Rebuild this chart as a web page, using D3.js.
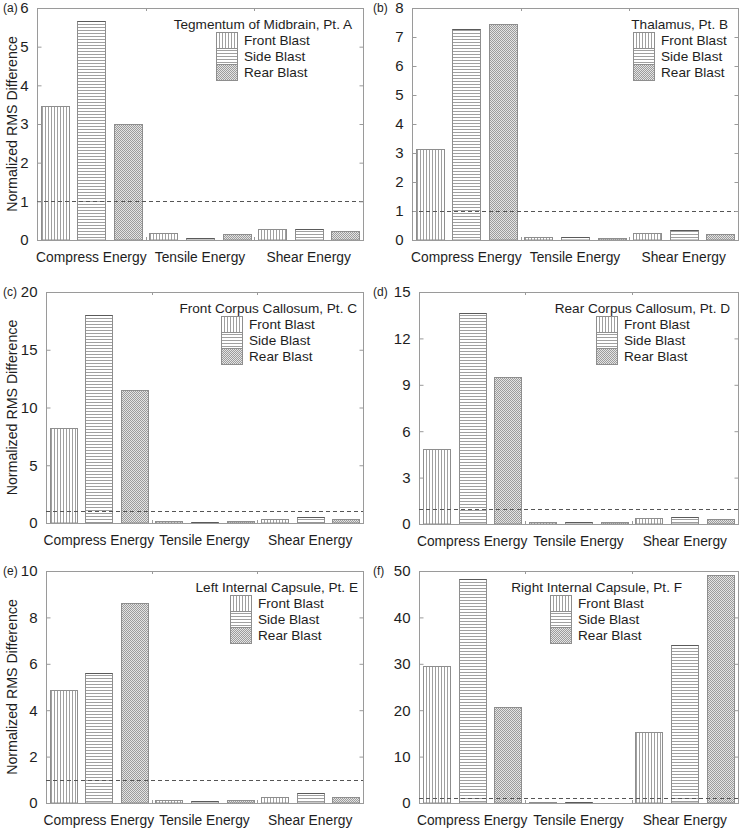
<!DOCTYPE html>
<html><head><meta charset="utf-8">
<script src="https://cdn.jsdelivr.net/npm/d3@7"></script>
<style>
html,body{margin:0;padding:0;background:#fff;}
svg{display:block;font-family:Arial,"Liberation Sans",Helvetica,sans-serif;}
</style></head>
<body>
<svg id="chart" width="742" height="829"></svg>
<script>
// ---------- data ----------
const categories = ["Compress Energy", "Tensile Energy", "Shear Energy"];
const series = ["Front Blast", "Side Blast", "Rear Blast"];
const panelLabels = ["(a)", "(b)", "(c)", "(d)", "(e)", "(f)"];
const panelTitles = [
  "Tegmentum of Midbrain, Pt. A",
  "Thalamus, Pt. B",
  "Front Corpus Callosum, Pt. C",
  "Rear Corpus Callosum, Pt. D",
  "Left Internal Capsule, Pt. E",
  "Right Internal Capsule, Pt. F"
];
// values[category][series]  (Front, Side, Rear)
const valuesA = [[3.47, 5.67, 2.99], [0.19, 0.04, 0.15], [0.28, 0.28, 0.23]];
const valuesB = [[3.13, 7.29, 7.45], [0.10, 0.09, 0.07], [0.24, 0.36, 0.22]];
const valuesC = [[8.2, 18.0, 11.48], [0.14, 0.09, 0.20], [0.37, 0.55, 0.32]];
const valuesD = [[4.84, 13.62, 9.51], [0.13, 0.11, 0.13], [0.39, 0.43, 0.30]];
const valuesE = [[4.88, 5.62, 8.63], [0.14, 0.07, 0.14], [0.27, 0.45, 0.24]];
const valuesF = [[29.5, 48.3, 20.6], [0.15, 0.15, 0.10], [15.2, 34.05, 49.1]];
const ticksA = [0, 1, 2, 3, 4, 5, 6];
const ticksB = [0, 1, 2, 3, 4, 5, 6, 7, 8];
const ticksC = [0, 5, 10, 15, 20];
const ticksD = [0, 3, 6, 9, 12, 15];
const ticksE = [0, 2, 4, 6, 8, 10];
const ticksF = [0, 10, 20, 30, 40, 50];
const referenceLevel = 1;
const yAxisTitle = "Normalized RMS Difference";

// ---------- layout (not data) ----------
const layout = [
  {col: 0,   left: 37,  top: 8,   right: 363, bottom: 240, legendRight: 11, ylab: true},
  {col: 370, left: 412, top: 8,   right: 738, bottom: 240, legendRight: 10, ylab: false},
  {col: 0,   left: 46,  top: 292, right: 363, bottom: 523, legendRight: 6,  ylab: true},
  {col: 370, left: 419, top: 292, right: 738, bottom: 524, legendRight: 8,  ylab: false},
  {col: 0,   left: 46,  top: 571, right: 363, bottom: 803, legendRight: 5,  ylab: true},
  {col: 370, left: 419, top: 571, right: 738, bottom: 803, legendRight: 56, ylab: false}
];
const allValues = [valuesA, valuesB, valuesC, valuesD, valuesE, valuesF];
const allTicks = [ticksA, ticksB, ticksC, ticksD, ticksE, ticksF];

const svg = d3.select("#chart");
const frameColor = "#9a9a9a";
const barStroke = "#8e8e8e";
const textColor = "#1e1e1e";

// ---------- patterns ----------
const defs = svg.append("defs");
const pv = defs.append("pattern").attr("id", "pat0").attr("patternUnits", "userSpaceOnUse")
  .attr("width", 3).attr("height", 3);
pv.append("rect").attr("width", 3).attr("height", 3).attr("fill", "#fff");
pv.append("rect").attr("x", 0).attr("y", 0).attr("width", 1).attr("height", 3).attr("fill", "#a0a0a0")
  .attr("shape-rendering", "crispEdges");
const ph = defs.append("pattern").attr("id", "pat1").attr("patternUnits", "userSpaceOnUse")
  .attr("width", 3).attr("height", 3);
ph.append("rect").attr("width", 3).attr("height", 3).attr("fill", "#fff");
ph.append("rect").attr("x", 0).attr("y", 0).attr("width", 3).attr("height", 1).attr("fill", "#a0a0a0")
  .attr("shape-rendering", "crispEdges");
const pc = defs.append("pattern").attr("id", "pat2").attr("patternUnits", "userSpaceOnUse")
  .attr("width", 2).attr("height", 2);
pc.append("rect").attr("width", 2).attr("height", 2).attr("fill", "#e4e4e4").attr("shape-rendering", "crispEdges");
pc.append("rect").attr("x", 0).attr("y", 0).attr("width", 1).attr("height", 1).attr("fill", "#9c9c9c")
  .attr("shape-rendering", "crispEdges");
pc.append("rect").attr("x", 1).attr("y", 1).attr("width", 1).attr("height", 1).attr("fill", "#9c9c9c")
  .attr("shape-rendering", "crispEdges");

const fills = ["url(#pat0)", "url(#pat1)", "url(#pat2)"];

layout.forEach((L, i) => {
  const vals = allValues[i];
  const ticks = allTicks[i];
  const g = svg.append("g");

  const y = d3.scaleLinear().domain([0, d3.max(ticks)]).range([L.bottom, L.top]);
  const x0 = d3.scaleBand().domain(categories).range([L.left, L.right]).padding(0);
  const x1 = d3.scaleBand().domain(series).range([0, x0.bandwidth()])
    .paddingInner(0.24).paddingOuter(0.1);

  // bars
  categories.forEach((c, ci) => {
    series.forEach((s, si) => {
      const v = vals[ci][si];
      const bx = Math.round(x0(c) + x1(s)) + 0.5;
      const bw = Math.round(x1.bandwidth());
      const by = Math.round(y(v)) + 0.5;
      g.append("rect")
        .attr("x", bx).attr("y", by)
        .attr("width", bw)
        .attr("height", Math.max(0, L.bottom - by))
        .attr("fill", fills[si]).attr("stroke", barStroke).attr("stroke-width", 1);
      if (si === 1) {
        g.append("line")
          .attr("x1", bx).attr("x2", bx + bw)
          .attr("y1", by).attr("y2", by).attr("stroke", "#5a5a5a").attr("stroke-width", 1);
      }
    });
  });

  // frame
  g.append("rect").attr("x", L.left + 0.5).attr("y", L.top + 0.5)
    .attr("width", L.right - L.left).attr("height", L.bottom - L.top)
    .attr("fill", "none").attr("stroke", frameColor).attr("stroke-width", 1);

  // dashed reference line
  g.append("line").attr("x1", L.left).attr("x2", L.right)
    .attr("y1", Math.round(y(referenceLevel)) + 0.5).attr("y2", Math.round(y(referenceLevel)) + 0.5)
    .attr("stroke", "#555").attr("stroke-width", 1).attr("stroke-dasharray", "4,3");

  // y axis (left) via d3 axis, ticks inward
  const yAxis = d3.axisLeft(y).tickValues(ticks).tickSize(-4).tickPadding(9).tickFormat(d3.format("d"));
  const ax = g.append("g").attr("transform", `translate(${L.left + 0.5},0)`).call(yAxis);
  ax.select(".domain").remove();
  ax.selectAll(".tick line").attr("stroke", frameColor);
  ax.selectAll(".tick text").attr("font-size", 15).attr("fill", textColor)
    .attr("font-family", "Arial,'Liberation Sans',sans-serif");
  // right ticks
  const axR = g.append("g").attr("transform", `translate(${L.right + 0.5},0)`)
    .call(d3.axisRight(y).tickValues(ticks).tickSize(-4).tickFormat(""));
  axR.select(".domain").remove();
  axR.selectAll(".tick line").attr("stroke", frameColor);

  // group separator ticks top & bottom
  categories.slice(1).forEach(c => {
    const xx = Math.round(x0(c)) + 0.5;
    g.append("line").attr("x1", xx).attr("x2", xx).attr("y1", L.bottom).attr("y2", L.bottom - 3)
      .attr("stroke", frameColor);
    g.append("line").attr("x1", xx).attr("x2", xx).attr("y1", L.top).attr("y2", L.top + 3)
      .attr("stroke", frameColor);
  });

  // category labels
  categories.forEach(c => {
    g.append("text").attr("x", x0(c) + x0.bandwidth() / 2).attr("y", L.bottom + 22)
      .attr("text-anchor", "middle").attr("font-size", 13.8).attr("fill", textColor).text(c);
  });

  // panel label
  g.append("text").attr("x", L.col + 3).attr("y", L.top + 4).attr("font-size", 12)
    .attr("fill", textColor).text(panelLabels[i]);

  // y title
  if (L.ylab) {
    g.append("text")
      .attr("transform", `translate(17,${(L.top + L.bottom) / 2}) rotate(-90)`)
      .attr("text-anchor", "middle").attr("font-size", 14.2).attr("fill", textColor).text(yAxisTitle);
  }

  // legend
  const titleRight = L.right - L.legendRight;
  const title = g.append("text").attr("x", titleRight).attr("y", L.top + 21)
    .attr("text-anchor", "end").attr("font-size", 13.6).attr("fill", textColor).text(panelTitles[i]);
  const tw = title.node().getComputedTextLength();
  const titleCenter = titleRight - tw / 2;
  const leg = g.append("g");
  const items = leg.selectAll("g").data(series).join("g");
  const texts = items.append("text").attr("x", 28).attr("y", (d, k) => k * 16 + 13)
    .attr("font-size", 13.6).attr("fill", textColor).text(d => d);
  const maxW = d3.max(texts.nodes(), n => n.getComputedTextLength());
  const blockW = 28 + maxW;
  items.insert("rect", "text").attr("x", 0.5).attr("y", (d, k) => k * 16 + 0.5)
    .attr("width", 21).attr("height", 16)
    .attr("fill", (d, k) => fills[k]).attr("stroke", barStroke);
  leg.attr("transform", `translate(${Math.round(titleCenter - blockW / 2)},${L.top + 24})`);
});
</script>
</body></html>
